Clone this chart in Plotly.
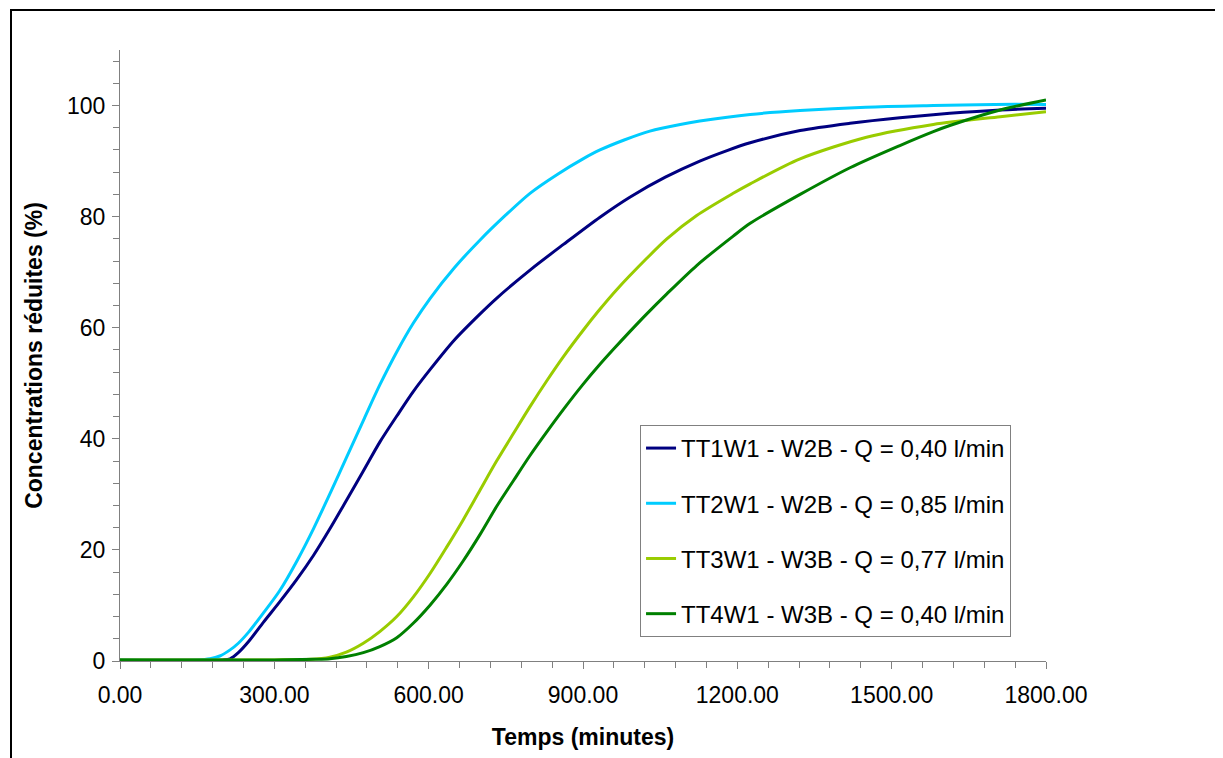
import plotly.graph_objects as go

# ---- Data (minutes, reduced concentration %) ----
names = [
    "TT1W1 - W2B - Q = 0,40 l/min",
    "TT2W1 - W2B - Q = 0,85 l/min",
    "TT3W1 - W3B - Q = 0,77 l/min",
    "TT4W1 - W3B - Q = 0,40 l/min",
]
colors = ["#000080", "#00CCFF", "#99CC00", "#008000"]

t1 = [0, 200, 214, 230, 250, 279, 310, 343, 376, 408, 440, 473, 505, 538, 570, 603, 650,
      700, 732, 800, 862, 933, 991, 1060, 1127, 1180, 1225, 1322, 1419, 1516, 1613, 1711, 1800]
c1 = [0.2, 0.2, 0.4, 1.5, 3.5, 7.0, 10.6, 14.6, 19.0, 23.8, 28.9, 34.2, 39.4, 44.1, 48.5, 52.5, 57.8,
      62.5, 65.3, 70.6, 75.0, 79.9, 83.5, 87.1, 90.0, 91.9, 93.3, 95.5, 96.8, 97.8, 98.6, 99.2, 99.5]

t2 = [0, 150, 175, 194, 214, 230, 250, 280, 310, 345, 376, 410, 441, 475, 505, 540, 570, 603,
      650, 700, 750, 797, 850, 900, 933, 980, 1030, 1089, 1127, 1225, 1322, 1450, 1581, 1700, 1800]
c2 = [0.2, 0.2, 0.4, 0.9, 2.0, 3.2, 5.2, 8.8, 12.6, 18.2, 23.8, 30.5, 36.8, 43.7, 49.7, 56.0, 60.8, 65.3,
      70.8, 75.8, 80.3, 84.2, 87.6, 90.4, 92.0, 93.8, 95.4, 96.6, 97.2, 98.4, 99.1, 99.7, 100.0, 100.2, 100.2]

t3 = [0, 300, 370, 408, 440, 473, 505, 538, 570, 603, 635, 667, 700, 732, 765, 797, 830, 862,
      900, 930, 965, 1024, 1063, 1121, 1192, 1225, 1322, 1451, 1581, 1711, 1800]
c3 = [0.2, 0.2, 0.3, 0.7, 1.6, 3.2, 5.3, 8.0, 11.5, 15.8, 20.5, 25.4, 30.8, 36.0, 41.0, 45.8, 50.5, 54.8,
      59.5, 63.0, 66.8, 72.5, 76.0, 80.2, 84.2, 85.9, 90.4, 94.3, 96.6, 98.0, 98.9]

t4 = [0, 300, 380, 408, 440, 473, 505, 538, 570, 603, 635, 667, 700, 732, 765, 797, 830, 862,
      900, 930, 960, 991, 1024, 1063, 1121, 1192, 1225, 1322, 1419, 1516, 1581, 1613, 1711, 1800]
c4 = [0.2, 0.2, 0.3, 0.4, 0.8, 1.5, 2.6, 4.2, 6.8, 10.1, 13.8, 18.0, 22.8, 27.8, 32.5, 37.0, 41.3, 45.3,
      49.8, 53.1, 56.2, 59.3, 62.5, 66.1, 71.2, 76.5, 78.8, 84.0, 88.8, 92.8, 95.3, 96.4, 99.2, 101.0]

series_t = [t1, t2, t3, t4]
series_c = [c1, c2, c3, c4]

x_ticks = [0, 300, 600, 900, 1200, 1500, 1800]
y_ticks = [0, 20, 40, 60, 80, 100]

FONT = "Liberation Sans, Arial, sans-serif"

fig = go.Figure()
for i in range(4):
    fig.add_trace(go.Scatter(
        x=series_t[i], y=series_c[i], mode="lines", name=names[i],
        line=dict(color=colors[i], width=3, shape="spline", smoothing=0.8),
        legendgroup=f"g{i}",
    ))

axis_common = dict(
    showgrid=False, zeroline=False, showline=True, linecolor="#808080", linewidth=1,
    ticks="outside", tickcolor="#808080", ticklen=7, tickwidth=1,
    tickfont=dict(family=FONT, size=23, color="black"),
    layer="below traces",
)

fig.update_layout(
    width=1215, height=750,
    margin=dict(l=112, r=177, t=42, b=97),
    plot_bgcolor="white", paper_bgcolor="white",
    font=dict(family=FONT, color="black"),
    xaxis=dict(
        range=[0, 1800], tickvals=x_ticks, tickformat=".2f",
        minor=dict(dtick=60, ticks="outside", ticklen=6, tickcolor="#808080"),
        title=dict(text="<b>Temps (minutes)</b>", font=dict(family=FONT, size=23), standoff=22),
        ticklabelstandoff=6,
        **axis_common,
    ),
    yaxis=dict(
        range=[0, 110], tickvals=y_ticks,
        minor=dict(dtick=4, ticks="outside", ticklen=6, tickcolor="#808080"),
        title=dict(text="<b>Concentrations réduites (%)</b>", font=dict(family=FONT, size=23), standoff=17),
        ticklabelstandoff=2,
        **axis_common,
    ),
    legend=dict(
        x=0.5616, y=0.3863, xanchor="left", yanchor="top",
        bgcolor="white", bordercolor="#808080", borderwidth=1,
        font=dict(family=FONT, size=24, color="black"),
        tracegroupgap=21, itemwidth=30,
    ),
    showlegend=True,
)

# outer chart frame
fig.add_shape(type="rect", xref="paper", yref="paper",
              x0=(11 - 120) / 926, x1=(1218 - 120) / 926,
              y0=(661 - 790) / 611, y1=(661 - 10) / 611,
              line=dict(color="black", width=2), fillcolor="rgba(0,0,0,0)", layer="below")

fig.write_html("out.html")
